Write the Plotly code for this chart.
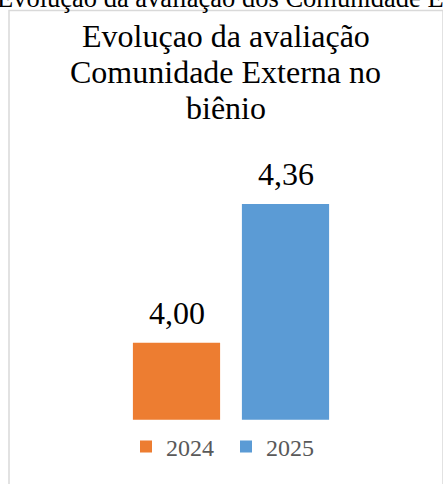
import plotly.graph_objects as go

# ---- data ----
series_names = ["2024", "2025"]
series_values = [4.00, 4.36]
series_colors = ["#ED7D31", "#5B9BD5"]
title_lines = ["Evoluçao da avaliação", "Comunidade Externa no", "biênio"]
page_heading = "Evolução da avaliação dos Comunidade Externa no biênio"

W, H = 443, 484
FONT = "Liberation Serif, Times New Roman, serif"

def px_x(p):
    return p / W

def px_y(p):
    return 1 - p / H

fig = go.Figure()
for name, val, col in zip(series_names, series_values, series_colors):
    fig.add_trace(go.Bar(
        x=[name], y=[val], name=name,
        marker=dict(color=col, line=dict(width=0)),
        hoverinfo="skip",
    ))

annotations = []
# data labels (x given as category index)
for i, val in enumerate(series_values):
    annotations.append(dict(
        x=i, y=val, xref="x", yref="y",
        text=f"{val:.2f}".replace(".", ","),
        showarrow=False, yanchor="bottom", yshift=10,
        font=dict(family=FONT, size=32, color="#000000"),
    ))
# chart title lines
baselines = [47, 83, 119]
for line, base in zip(title_lines, baselines):
    annotations.append(dict(
        x=px_x(226), y=px_y(base - 0.3375 * 32), xref="paper", yref="paper",
        text=line, showarrow=False, xanchor="center", yanchor="middle",
        font=dict(family=FONT, size=32, color="#000000"),
    ))
# clipped page heading at very top
annotations.append(dict(
    x=px_x(-5), y=px_y(7 - 0.3375 * 26.5), xref="paper", yref="paper",
    text=page_heading, showarrow=False, xanchor="left", yanchor="middle",
    font=dict(family=FONT, size=26.5, color="#000000"),
))

fig.update_layout(
    width=W, height=H,
    margin=dict(l=0, r=0, t=0, b=0),
    paper_bgcolor="white", plot_bgcolor="white",
    barmode="overlay", bargap=0.2,
    xaxis=dict(type="category", domain=[px_x(122), px_x(340)], visible=False,
               categoryorder="array", categoryarray=series_names,
               range=[-0.5, 1.5]),
    yaxis=dict(domain=[px_y(419.7), px_y(188.7)], range=[3.8, 4.4], visible=False),
    showlegend=True,
    legend=dict(orientation="h", x=px_x(126), xanchor="left",
                y=px_y(447), yanchor="middle",
                font=dict(family=FONT, size=24, color="#595959"),
                entrywidth=55, entrywidthmode="pixels",
                bgcolor="rgba(0,0,0,0)", borderwidth=0,
                traceorder="normal", itemclick=False),
    annotations=annotations,
    shapes=[dict(type="rect", xref="paper", yref="paper",
                 x0=px_x(9), x1=px_x(443), y0=-0.2, y1=px_y(10.5),
                 line=dict(color="#D9D9D9", width=1.5), fillcolor="rgba(0,0,0,0)",
                 layer="below")],
)

fig.write_html("out.html",
               config={"displayModeBar": False},
               post_script="document.body.style.margin='0';")
